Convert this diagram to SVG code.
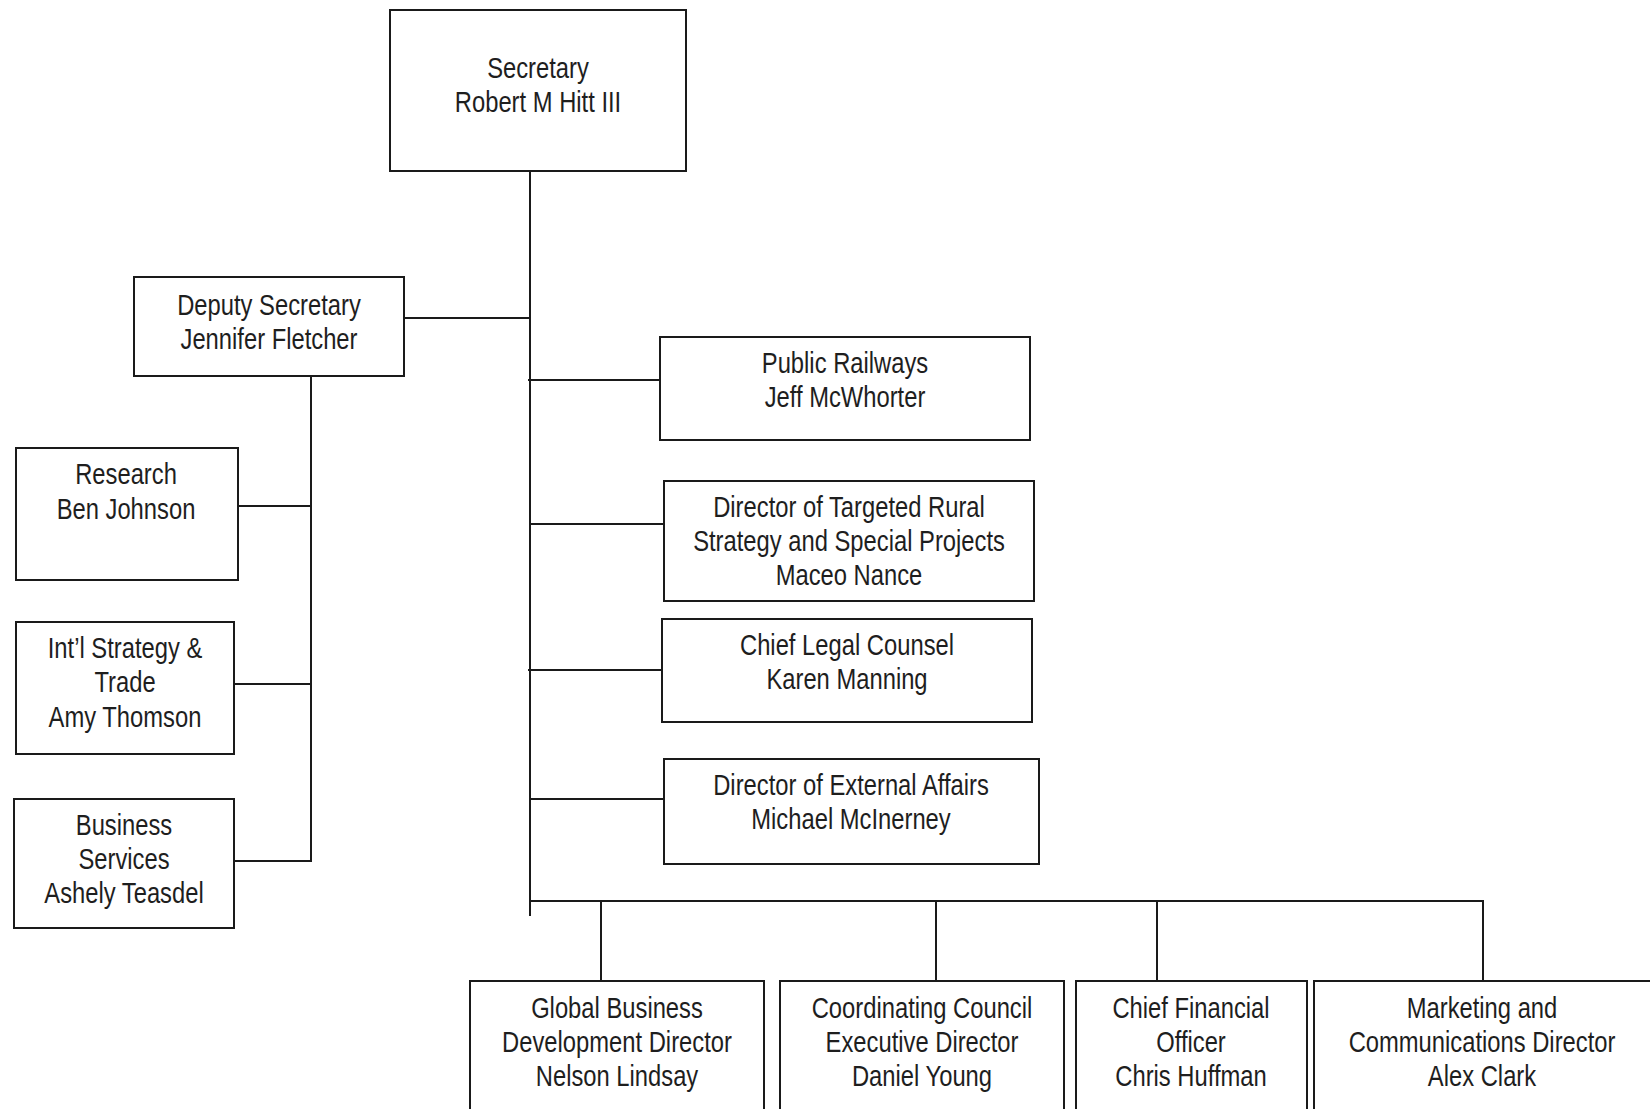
<svg xmlns="http://www.w3.org/2000/svg" width="1650" height="1109" viewBox="0 0 1650 1109">
<style>
  .box { fill: #ffffff; stroke: #1a1a1a; stroke-width: 2; }
  .ln { stroke: #1a1a1a; stroke-width: 2; fill: none; }
  .t { font-family: "Liberation Sans", Arial, sans-serif; font-size: 29px; fill: #1e1e1e; text-anchor: middle; }
</style>
<rect width="1650" height="1109" fill="#ffffff"/>

<g id="connectors">
  <line class="ln" x1="530" y1="171" x2="530" y2="916"/>
  <line class="ln" x1="404" y1="318" x2="530" y2="318"/>
  <line class="ln" x1="311" y1="376" x2="311" y2="861"/>
  <line class="ln" x1="238" y1="506" x2="311" y2="506"/>
  <line class="ln" x1="234" y1="684" x2="311" y2="684"/>
  <line class="ln" x1="234" y1="861" x2="312" y2="861"/>
  <line class="ln" x1="528" y1="380" x2="660" y2="380"/>
  <line class="ln" x1="530" y1="524" x2="664" y2="524"/>
  <line class="ln" x1="528" y1="670" x2="662" y2="670"/>
  <line class="ln" x1="530" y1="799" x2="664" y2="799"/>
  <polyline class="ln" points="530,901 1483,901 1483,981"/>
  <line class="ln" x1="601" y1="901" x2="601" y2="981"/>
  <line class="ln" x1="936" y1="901" x2="936" y2="981"/>
  <line class="ln" x1="1157" y1="901" x2="1157" y2="981"/>
</g>

<g id="secretary">
  <rect class="box" x="390" y="10" width="296" height="161"/>
  <text class="t" transform="translate(538 0) scale(0.82 1)"><tspan x="0" y="78">Secretary</tspan><tspan x="0" y="112">Robert M Hitt III</tspan></text>
</g>

<g id="deputy">
  <rect class="box" x="134" y="277" width="270" height="99"/>
  <text class="t" transform="translate(269 0) scale(0.82 1)"><tspan x="0" y="315">Deputy Secretary</tspan><tspan x="0" y="349">Jennifer Fletcher</tspan></text>
</g>

<g id="research">
  <rect class="box" x="16" y="448" width="222" height="132"/>
  <text class="t" transform="translate(126 0) scale(0.82 1)"><tspan x="0" y="484">Research</tspan><tspan x="0" y="519">Ben Johnson</tspan></text>
</g>

<g id="intl">
  <rect class="box" x="16" y="622" width="218" height="132"/>
  <text class="t" transform="translate(125 0) scale(0.82 1)"><tspan x="0" y="658">Int’l Strategy &amp;</tspan><tspan x="0" y="692">Trade</tspan><tspan x="0" y="727">Amy Thomson</tspan></text>
</g>

<g id="business">
  <rect class="box" x="14" y="799" width="220" height="129"/>
  <text class="t" transform="translate(124 0) scale(0.82 1)"><tspan x="0" y="835">Business</tspan><tspan x="0" y="869">Services</tspan><tspan x="0" y="903">Ashely Teasdel</tspan></text>
</g>

<g id="railways">
  <rect class="box" x="660" y="337" width="370" height="103"/>
  <text class="t" transform="translate(845 0) scale(0.82 1)"><tspan x="0" y="373">Public Railways</tspan><tspan x="0" y="407">Jeff McWhorter</tspan></text>
</g>

<g id="rural">
  <rect class="box" x="664" y="481" width="370" height="120"/>
  <text class="t" transform="translate(849 0) scale(0.82 1)"><tspan x="0" y="517">Director of Targeted Rural</tspan><tspan x="0" y="551">Strategy and Special Projects</tspan><tspan x="0" y="585">Maceo Nance</tspan></text>
</g>

<g id="legal">
  <rect class="box" x="662" y="619" width="370" height="103"/>
  <text class="t" transform="translate(847 0) scale(0.82 1)"><tspan x="0" y="655">Chief Legal Counsel</tspan><tspan x="0" y="689">Karen Manning</tspan></text>
</g>

<g id="external">
  <rect class="box" x="664" y="759" width="375" height="105"/>
  <text class="t" transform="translate(851 0) scale(0.82 1)"><tspan x="0" y="795">Director of External Affairs</tspan><tspan x="0" y="829">Michael McInerney</tspan></text>
</g>

<g id="global">
  <rect class="box" x="470" y="981" width="294" height="140"/>
  <text class="t" transform="translate(617 0) scale(0.82 1)"><tspan x="0" y="1018">Global Business</tspan><tspan x="0" y="1052">Development Director</tspan><tspan x="0" y="1086">Nelson Lindsay</tspan></text>
</g>

<g id="council">
  <rect class="box" x="780" y="981" width="284" height="140"/>
  <text class="t" transform="translate(922 0) scale(0.82 1)"><tspan x="0" y="1018">Coordinating Council</tspan><tspan x="0" y="1052">Executive Director</tspan><tspan x="0" y="1086">Daniel Young</tspan></text>
</g>

<g id="cfo">
  <rect class="box" x="1076" y="981" width="231" height="140"/>
  <text class="t" transform="translate(1191 0) scale(0.82 1)"><tspan x="0" y="1018">Chief Financial</tspan><tspan x="0" y="1052">Officer</tspan><tspan x="0" y="1086">Chris Huffman</tspan></text>
</g>

<g id="marketing">
  <rect class="box" x="1314" y="981" width="350" height="140"/>
  <text class="t" transform="translate(1482 0) scale(0.82 1)"><tspan x="0" y="1018">Marketing and</tspan><tspan x="0" y="1052">Communications Director</tspan><tspan x="0" y="1086">Alex Clark</tspan></text>
</g>
</svg>
